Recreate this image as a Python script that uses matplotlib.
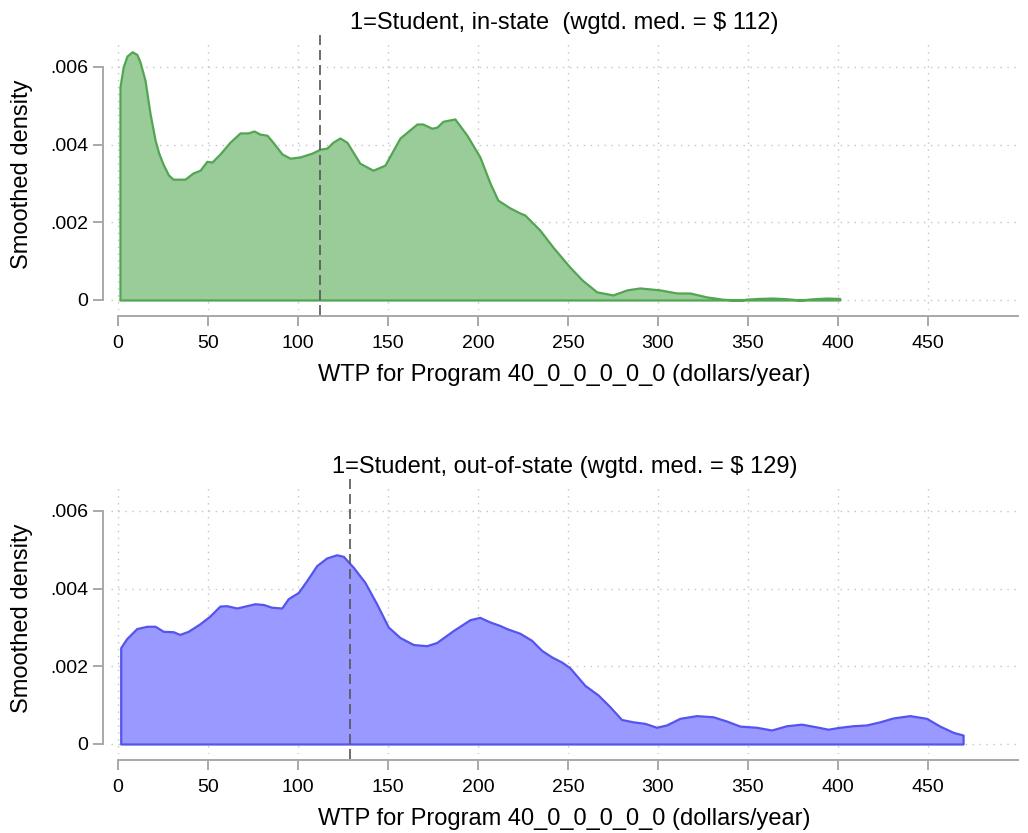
import matplotlib
matplotlib.use("Agg")
from matplotlib import pyplot as plt

plt.rcParams["font.family"] = ["Liberation Sans", "DejaVu Sans"]

# smoothed density, in-state students
instate_wtp = [
    1.1, 2.9, 5.0, 7.9, 10.5, 12.2, 15.0, 17.8, 20.6, 22.5, 25.0, 28.0,
    30.6, 37.2, 41.7, 45.6, 49.4,
    52.2, 56.7, 62.2, 67.8, 72.2, 75.6, 78.9, 82.8, 86.1, 91.1, 95.6, 101.0,
    107.8, 112.2, 116.1, 119.4, 123.3, 127.2, 134.4, 141.7, 148.3, 156.7,
    166.1, 169.4, 174.4, 177.2, 180.6, 187.2, 193.9, 201.1, 206.7, 211.1,
    217.8, 223.3, 226.0, 234.4, 241.7, 251.0, 258.0, 266.0, 275.0, 282.8,
    290.0, 301.0, 310.6, 317.8, 327.0, 336.0, 343.0, 346.0, 349.0, 356.0,
    364.0, 372.0, 379.0, 386.0, 394.0, 401.0,
]
instate_density = [
    0.00549, 0.00600, 0.00628, 0.00639, 0.00632, 0.00613, 0.00566, 0.00480,
    0.00412, 0.00380, 0.00350, 0.00322, 0.00311,
    0.00311, 0.00327, 0.00334, 0.00357, 0.00355, 0.00376, 0.00406, 0.00430,
    0.00430, 0.00435, 0.00427, 0.00424, 0.00406, 0.00376, 0.00365, 0.00368,
    0.00378, 0.00388, 0.00391, 0.00406, 0.00417, 0.00406, 0.00352, 0.00334,
    0.00347, 0.00417, 0.00453, 0.00453, 0.00442, 0.00445, 0.00460, 0.00466,
    0.00424, 0.00368, 0.00301, 0.00257, 0.00237, 0.00224, 0.00219, 0.00180,
    0.00136, 0.00085, 0.00051, 0.00021, 0.00013, 0.00026, 0.00031, 0.00026,
    0.00018, 0.00018, 0.00008, 0.00002, 0.00000, 0.00000, 0.00002, 0.00004,
    0.00005, 0.00003, 0.00000, 0.00003, 0.00005, 0.00004,
]
instate_median = 112

# out-of-state students
outstate_wtp = [
    1.5, 4.8, 10.4, 16.0, 20.6, 25.2, 30.7, 34.3, 39.0, 45.4, 51.0, 56.6,
    60.4, 66.0, 70.6, 76.1, 80.8, 85.4, 91.0, 94.6, 100.2, 104.8, 110.4,
    116.0, 121.5, 125.2, 130.7, 137.2, 143.7, 150.2, 156.7, 164.1, 171.5,
    177.0, 186.3, 195.6, 201.0, 206.7, 212.2, 216.0, 223.3, 229.8, 235.4,
    241.0, 246.5, 251.1, 259.4, 266.8, 273.3, 279.8, 286.3, 292.8, 299.3,
    304.8, 312.2, 321.5, 330.7, 338.2, 345.6, 354.8, 363.2, 371.5, 379.8,
    388.2, 394.6, 401.1, 408.5, 415.9, 423.3, 430.7, 440.0, 449.3, 456.7,
    464.1, 469.6,
]
outstate_density = [
    0.00248, 0.00271, 0.00297, 0.00303, 0.00303, 0.00290, 0.00289, 0.00282,
    0.00290, 0.00309, 0.00329, 0.00355, 0.00356, 0.00350, 0.00355, 0.00361,
    0.00359, 0.00352, 0.00350, 0.00374, 0.00390, 0.00420, 0.00459, 0.00479,
    0.00487, 0.00483, 0.00455, 0.00416, 0.00361, 0.00301, 0.00274, 0.00256,
    0.00253, 0.00261, 0.00292, 0.00320, 0.00326, 0.00314, 0.00305, 0.00297,
    0.00285, 0.00267, 0.00241, 0.00224, 0.00211, 0.00196, 0.00151, 0.00126,
    0.00096, 0.00063, 0.00057, 0.00053, 0.00043, 0.00049, 0.00066, 0.00073,
    0.00070, 0.00059, 0.00046, 0.00043, 0.00036, 0.00047, 0.00051, 0.00044,
    0.00038, 0.00043, 0.00047, 0.00049, 0.00057, 0.00067, 0.00073, 0.00066,
    0.00046, 0.00030, 0.00023,
]
outstate_median = 129

x_ticks = [0, 50, 100, 150, 200, 250, 300, 350, 400, 450]
y_ticks = [0, 0.002, 0.004, 0.006]
y_tick_labels = ["0", ".002", ".004", ".006"]

axis_grey = "#a8a8a8"


def density_panel(ax, wtp, density, median, title, fill_color, line_color):
    ax.fill_between(wtp, density, 0, facecolor=fill_color,
                    edgecolor=line_color, linewidth=1.6, zorder=2)
    ax.axvline(median, ymin=-0.02, ymax=1.02, clip_on=False,
               color="#555555", linewidth=1.2, dashes=(6, 3), zorder=3)

    ax.set_xlim(-4, 500)
    ax.set_ylim(-0.00025, 0.0067)
    ax.set_xticks(x_ticks)
    ax.set_yticks(y_ticks)
    ax.set_yticklabels(y_tick_labels)
    ax.grid(True, color="#c4c4c4", linestyle=(0, (1, 4)), linewidth=1.0,
            zorder=0)
    ax.set_axisbelow(True)

    for side in ["top", "right"]:
        ax.spines[side].set_visible(False)
    ax.spines["left"].set_position(("outward", 5.5))
    ax.spines["bottom"].set_position(("outward", 4.5))
    ax.spines["left"].set_bounds(0, 0.006)
    ax.spines["bottom"].set_bounds(0, 500)
    for side in ["left", "bottom"]:
        ax.spines[side].set_color(axis_grey)
        ax.spines[side].set_linewidth(1.4)
    ax.tick_params(axis="both", colors=axis_grey, labelcolor="black",
                   length=7, width=1.4, labelsize=14)
    ax.tick_params(axis="y", pad=4)
    ax.tick_params(axis="x", pad=7)

    ax.set_title(title, fontsize=17, pad=8)
    ax.set_xlabel("WTP for Program 40_0_0_0_0_0 (dollars/year)", fontsize=17,
                  labelpad=8)
    ax.set_ylabel("Smoothed density", fontsize=17, labelpad=12)


fig = plt.figure(figsize=(10.28, 8.33), dpi=100)
ax_top = fig.add_axes([110.8 / 1028, 1 - 309.7 / 833, 907 / 1028, 270 / 833])
ax_bottom = fig.add_axes([110.8 / 1028, 1 - 753.7 / 833, 907 / 1028, 270 / 833])

density_panel(ax_top, instate_wtp, instate_density, instate_median,
              "1=Student, in-state  (wgtd. med. = $ 112)",
              "#99cc99", "#52a552")
density_panel(ax_bottom, outstate_wtp, outstate_density, outstate_median,
              "1=Student, out-of-state (wgtd. med. = $ 129)",
              "#9999ff", "#5555ee")

fig.savefig("out.png", dpi=100)
